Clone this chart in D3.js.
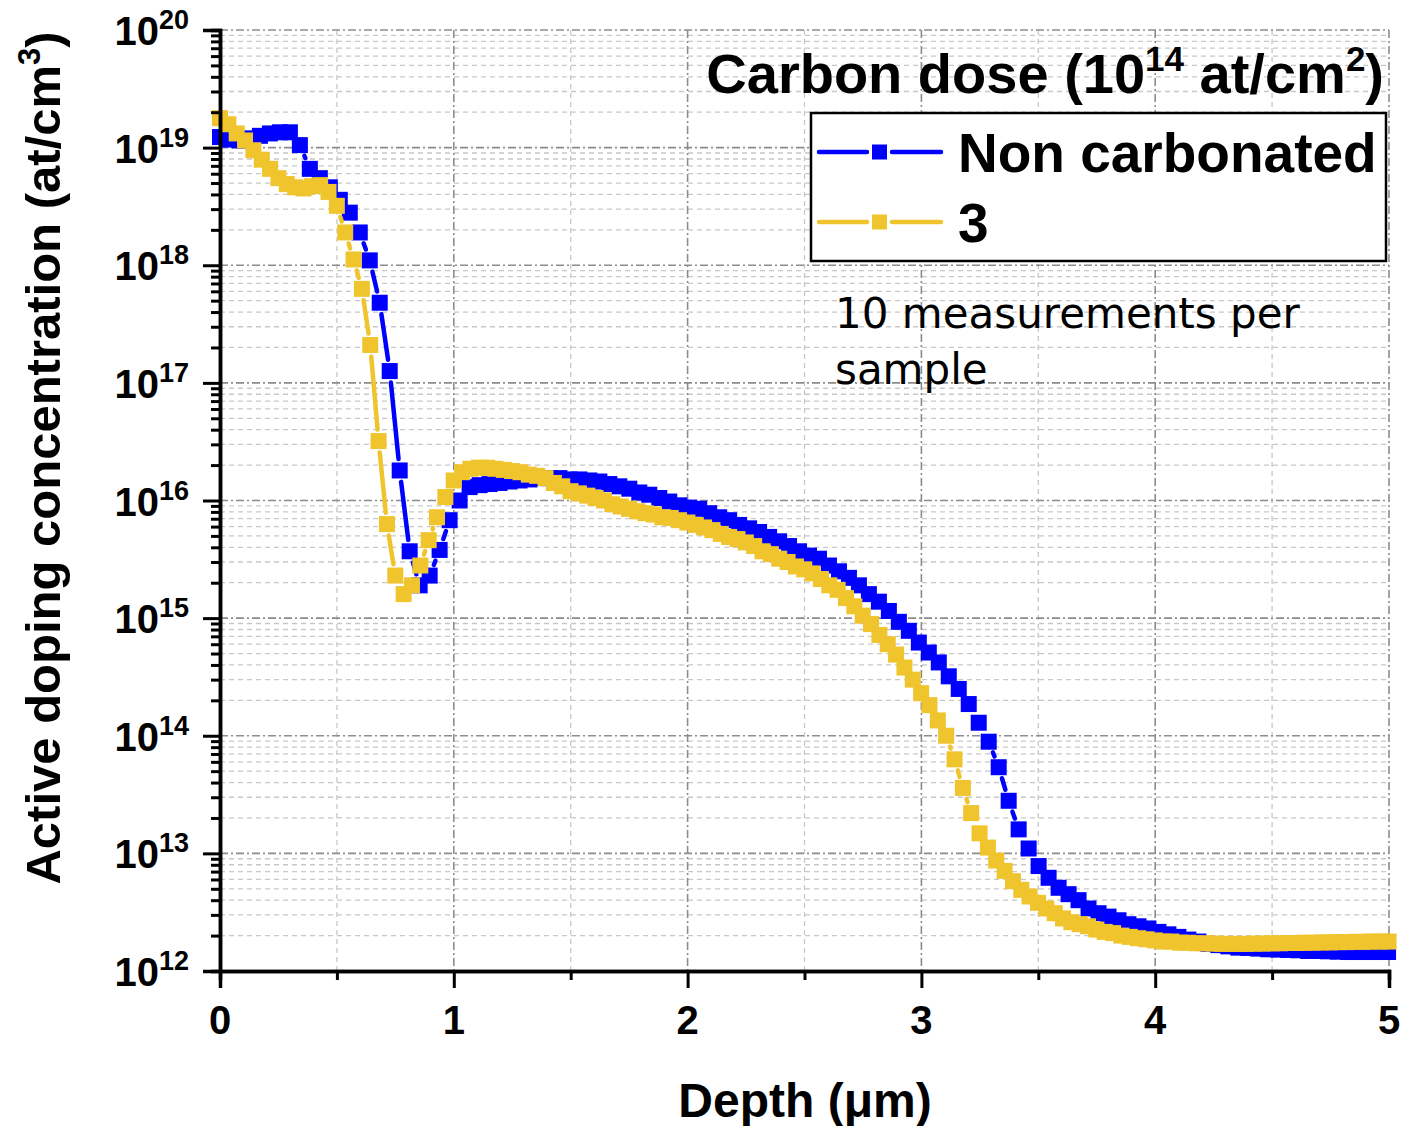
<!DOCTYPE html>
<html>
<head>
<meta charset="utf-8">
<script src="https://cdn.jsdelivr.net/npm/d3@7"></script>
<style>
body { margin:0; background:#fff; }
text { font-family: "Liberation Sans", Arial, sans-serif; }
</style>
</head>
<body>
<div id="chart"></div>
<script>
// depth grids (um) : start 0, fixed step per sample
var blueStep = 0.0427;
var goldStep = 0.0357;

// active doping concentration (at/cm3)
var blueConc = [
  1.23e19,1.17e19,1.15e19,1.2e19,1.26e19,1.32e19,1.35e19,1.35e19,1.05e19,6.6e18,
  5.5e18,4.6e18,3.6e18,2.8e18,1.9e18,1.1e18,4.8e17,1.26e17,1.8e16,3.7e15,
  1.9e15,2.3e15,3.8e15,6.8e15,1.0e16,1.3e16,1.35e16,1.38e16,1.41e16,1.45e16,
  1.48e16,1.51e16,1.55e16,1.55e16,1.55e16,1.51e16,1.51e16,1.48e16,1.45e16,1.38e16,
  1.32e16,1.26e16,1.17e16,1.12e16,1.05e16,9.8e15,9.1e15,8.7e15,8.5e15,7.8e15,
  7.2e15,6.8e15,6.2e15,5.8e15,5.4e15,4.9e15,4.5e15,4.1e15,3.7e15,3.4e15,
  3.2e15,2.8e15,2.5e15,2.2e15,1.9e15,1.6e15,1.38e15,1.15e15,9.3e14,7.8e14,
  6.2e14,5.1e14,4.2e14,3.2e14,2.5e14,1.86e14,1.29e14,8.9e13,5.4e13,2.8e13,
  1.6e13,1.1e13,7.8e12,6.2e12,5.1e12,4.5e12,4.0e12,3.4e12,3.1e12,2.9e12,
  2.7e12,2.5e12,2.4e12,2.3e12,2.15e12,2.05e12,1.95e12,1.85e12,1.78e12,1.7e12,
  1.66e12,1.62e12,1.58e12,1.57e12,1.55e12,1.53e12,1.52e12,1.51e12,1.5e12,1.48e12,
  1.48e12,1.47e12,1.46e12,1.45e12,1.45e12,1.45e12,1.45e12,1.45e12
];
var goldConc = [
  1.78e19,1.58e19,1.32e19,1.15e19,9.5e18,7.9e18,6.6e18,5.5e18,4.9e18,4.6e18,
  4.5e18,4.7e18,4.8e18,4.2e18,3.2e18,1.9e18,1.12e18,6.3e17,2.1e17,3.2e16,
  6.3e15,2.3e15,1.6e15,1.9e15,2.8e15,4.6e15,7.2e15,1.07e16,1.48e16,1.74e16,
  1.86e16,1.9e16,1.9e16,1.86e16,1.82e16,1.78e16,1.74e16,1.66e16,1.62e16,1.55e16,
  1.41e16,1.32e16,1.2e16,1.15e16,1.1e16,1.05e16,1.0e16,9.3e15,8.9e15,8.5e15,
  8.1e15,7.8e15,7.6e15,7.2e15,7.1e15,6.8e15,6.5e15,6.2e15,5.9e15,5.6e15,
  5.2e15,4.9e15,4.7e15,4.4e15,4.1e15,3.7e15,3.5e15,3.2e15,3.0e15,2.75e15,
  2.6e15,2.4e15,2.15e15,1.9e15,1.74e15,1.48e15,1.26e15,1.05e15,8.9e14,7.2e14,
  6.0e14,4.9e14,3.8e14,3.0e14,2.3e14,1.82e14,1.35e14,1.0e14,6.3e13,3.6e13,
  2.2e13,1.48e13,1.12e13,8.7e12,7.1e12,5.8e12,4.9e12,4.3e12,3.8e12,3.4e12,
  3.1e12,2.8e12,2.6e12,2.5e12,2.4e12,2.25e12,2.15e12,2.1e12,2.0e12,1.95e12,
  1.9e12,1.86e12,1.82e12,1.78e12,1.78e12,1.74e12,1.74e12,1.72e12,1.72e12,1.71e12,
  1.7e12,1.7e12,1.7e12,1.7e12,1.71e12,1.71e12,1.72e12,1.72e12,1.73e12,1.73e12,
  1.74e12,1.74e12,1.75e12,1.75e12,1.76e12,1.76e12,1.77e12,1.77e12,1.78e12,1.78e12,
  1.78e12
];

var seriesNames = ["Non carbonated", "3"];
var yExponents = [12,13,14,15,16,17,18,19,20];
var xTicks = [0,1,2,3,4,5];
var xHalfTicks = [0.5,1.5,2.5,3.5,4.5];

var colors = ["#0000ff", "#f0c42d"];

var svg = d3.select('#chart').append('svg')
            .attr('width',1401)
            .attr('height',1126);

var x = d3.scaleLinear().domain([0,5]).range([220,1389]);
var y = d3.scaleLog().domain([1e12,1e20]).range([971,30]);

var yMajor = yExponents.map(function(e){ return Math.pow(10,e); });
var yMinor = [];
yExponents.slice(0,-1).forEach(function(e){
  for (var m=2;m<=9;m++) yMinor.push(m*Math.pow(10,e));
});

// grid
var grid = svg.append('g');
grid.selectAll('.hmin').data(yMinor).enter().append('line')
    .attr('x1',220).attr('x2',1389)
    .attr('y1',d=>y(d)).attr('y2',d=>y(d))
    .style('stroke','#c8c8c8').style('stroke-width',1.3)
    .style('stroke-dasharray','5,4');
grid.selectAll('.vmin').data(xHalfTicks).enter().append('line')
    .attr('x1',d=>x(d)).attr('x2',d=>x(d))
    .attr('y1',30).attr('y2',971)
    .style('stroke','#c8c8c8').style('stroke-width',1.3)
    .style('stroke-dasharray','5,4');
grid.selectAll('.hmaj').data(yMajor.slice(1)).enter().append('line')
    .attr('x1',220).attr('x2',1389)
    .attr('y1',d=>y(d)).attr('y2',d=>y(d))
    .style('stroke','#8c8c8c').style('stroke-width',1.6)
    .style('stroke-dasharray','8,3,2,3');
grid.selectAll('.vmaj').data(xTicks.slice(1)).enter().append('line')
    .attr('x1',d=>x(d)).attr('x2',d=>x(d))
    .attr('y1',30).attr('y2',971)
    .style('stroke','#8c8c8c').style('stroke-width',1.6)
    .style('stroke-dasharray','8,3,2,3');

// series
var series = [
  {name:seriesNames[0], color:colors[0], pts:blueConc.map((v,i)=>[i*blueStep, v])},
  {name:seriesNames[1], color:colors[1], pts:goldConc.map((v,i)=>[i*goldStep, v])}
];

var gap = 11.5;
var msize = 16;
var gapSegments = function(p) {
  var segs = [];
  for (var i=1;i<p.length;i++) {
    var a=p[i-1], b=p[i];
    var dx=b[0]-a[0], dy=b[1]-a[1], L=Math.hypot(dx,dy);
    if (L <= 2*gap+0.5) continue;
    var ux=dx/L, uy=dy/L;
    segs.push([a[0]+ux*gap, a[1]+uy*gap, b[0]-ux*gap, b[1]-uy*gap]);
  }
  return segs;
}

var plot = svg.append('g');
series.forEach(function(s) {
  var px = s.pts.map(d=>[x(d[0]), y(d[1])]);
  var g = plot.append('g');
  g.selectAll('line').data(gapSegments(px)).enter().append('line')
   .attr('x1',d=>d[0]).attr('y1',d=>d[1]).attr('x2',d=>d[2]).attr('y2',d=>d[3])
   .style('stroke',s.color).style('stroke-width',4.5).style('stroke-linecap','round');
  g.selectAll('rect').data(px).enter().append('rect')
   .attr('x',d=>d[0]-msize/2).attr('y',d=>d[1]-msize/2)
   .attr('width',msize).attr('height',msize)
   .style('fill',s.color);
});

// axes
var yAxisMaj = d3.axisLeft(y).tickValues(yMajor).tickSize(17).tickFormat('');
var yAxisMin = d3.axisLeft(y).tickValues(yMinor).tickSize(9).tickFormat('');
var xAxisMaj = d3.axisBottom(x).tickValues(xTicks).tickSize(17).tickFormat('');
var xAxisMin = d3.axisBottom(x).tickValues(xHalfTicks).tickSize(9).tickFormat('');

[yAxisMaj, yAxisMin].forEach(function(a){
  svg.append('g').attr('transform','translate(220,0)').call(a);
});
[xAxisMaj, xAxisMin].forEach(function(a){
  svg.append('g').attr('transform','translate(0,971)').call(a);
});
svg.selectAll('.domain').style('stroke','#000').style('stroke-width',3.5);
svg.selectAll('.tick line').style('stroke','#000').style('stroke-width',3);

// y tick labels 10^n
var ylab = svg.append('g').selectAll('text').data(yExponents).enter().append('text')
    .attr('x',189).attr('y',d=>y(Math.pow(10,d))+15)
    .attr('text-anchor','end')
    .style('font-weight','bold');
ylab.append('tspan').style('font-size','40px').text('10');
ylab.append('tspan').style('font-size','27px').attr('dy',-16).text(d=>d);

svg.append('g').selectAll('text').data(xTicks).enter().append('text')
   .attr('x',d=>x(d)).attr('y',1034)
   .attr('text-anchor','middle')
   .style('font-weight','bold').style('font-size','40px')
   .text(d=>d);

// axis titles
svg.append('text')
   .attr('x',805).attr('y',1117)
   .attr('text-anchor','middle')
   .style('font-weight','bold').style('font-size','48px')
   .text('Depth (\u03bcm)');

var yt = svg.append('text')
   .attr('transform','translate(60,458) rotate(-90)')
   .attr('text-anchor','middle')
   .style('font-weight','bold').style('font-size','49px');
yt.append('tspan').text('Active doping concentration (at/cm');
yt.append('tspan').attr('dy',-20).style('font-size','31px').text('3');
yt.append('tspan').attr('dy',20).text(')');

// legend
var lt = svg.append('text')
   .attr('x',1384).attr('y',93)
   .attr('text-anchor','end')
   .style('font-weight','bold').style('font-size','56px');
lt.append('tspan').text('Carbon dose (10');
lt.append('tspan').attr('dy',-22).style('font-size','35px').text('14');
lt.append('tspan').attr('dy',22).text(' at/cm');
lt.append('tspan').attr('dy',-22).style('font-size','35px').text('2');
lt.append('tspan').attr('dy',22).text(')');

svg.append('rect')
   .attr('x',811).attr('y',113).attr('width',575).attr('height',148)
   .style('fill','#fff').style('stroke','#000').style('stroke-width',2.5);

var leg = svg.append('g').selectAll('g').data(series).enter().append('g')
   .attr('transform',(d,i)=>'translate(0,'+(152+i*70)+')');
leg.append('line').attr('x1',819).attr('x2',867).attr('y1',0).attr('y2',0)
   .style('stroke',d=>d.color).style('stroke-width',4.5).style('stroke-linecap','round');
leg.append('line').attr('x1',892).attr('x2',941).attr('y1',0).attr('y2',0)
   .style('stroke',d=>d.color).style('stroke-width',4.5).style('stroke-linecap','round');
leg.append('rect').attr('x',872).attr('y',-7.5).attr('width',15).attr('height',15)
   .style('fill',d=>d.color);
leg.append('text').attr('x',958).attr('y',20)
   .style('font-weight','bold').style('font-size','55px')
   .text(d=>d.name);

// note
var note = svg.append('text')
   .style('font-family','"DejaVu Sans", sans-serif')
   .style('font-size','42px');
note.append('tspan').attr('x',835).attr('y',328).text('10 measurements per');
note.append('tspan').attr('x',835).attr('y',384).text('sample');
</script>
</body>
</html>
